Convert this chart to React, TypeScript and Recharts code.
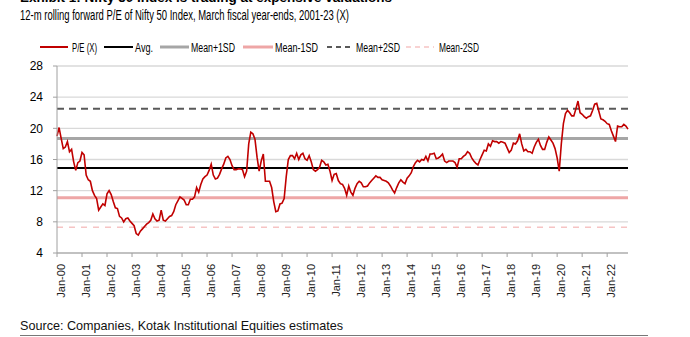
import React from 'react';
import { LineChart, Line, XAxis, YAxis, CartesianGrid, ReferenceLine } from 'recharts';

// Monthly 12-m forward P/E, Jan-2000 .. Nov-2022
const peMonthly: number[] = [
  19.0, 20.1, 18.7, 17.4, 17.6, 18.3, 17.0, 17.3, 15.7, 14.6, 15.6, 15.8, // 2000
  16.9, 16.6, 14.0, 13.4, 13.2, 12.0, 11.4, 11.0, 9.5, 9.9, 10.3, 10.1, // 2001
  11.6, 12.0, 11.5, 10.6, 9.8, 9.7, 8.7, 8.5, 8.0, 8.4, 8.5, 8.1, // 2002
  7.8, 7.5, 6.5, 6.3, 6.8, 7.1, 7.4, 7.7, 7.9, 8.2, 9.0, 8.4, // 2003
  8.1, 8.2, 9.5, 8.2, 8.1, 8.4, 8.7, 8.8, 9.3, 10.2, 10.7, 11.2, // 2004
  11.0, 10.8, 10.2, 10.2, 10.9, 10.9, 11.2, 12.4, 11.8, 12.8, 13.5, 13.8, // 2005
  14.0, 14.6, 15.4, 14.0, 13.5, 13.6, 14.1, 14.8, 15.4, 16.2, 16.4, 16.0, // 2006
  15.2, 14.7, 14.7, 14.8, 14.8, 14.7, 13.8, 14.5, 18.0, 19.5, 19.3, 18.6, // 2007
  16.3, 14.5, 15.8, 16.7, 13.2, 13.2, 13.2, 12.4, 10.6, 9.3, 9.4, 10.3, // 2008
  10.4, 11.0, 13.8, 16.0, 16.5, 16.5, 16.1, 16.8, 16.0, 16.6, 16.8, 16.1, // 2009
  15.9, 16.5, 15.7, 14.7, 14.5, 14.7, 15.0, 15.9, 15.7, 15.3, 15.4, 14.5, // 2010
  13.3, 14.1, 14.2, 13.3, 12.9, 12.8, 12.3, 11.4, 12.6, 11.8, 11.4, 12.3, // 2011
  12.9, 13.2, 13.0, 12.5, 12.5, 12.6, 13.0, 13.3, 13.6, 13.9, 13.7, 13.7, // 2012
  13.4, 13.3, 13.2, 13.0, 12.6, 12.1, 11.7, 12.4, 13.0, 13.4, 13.1, 12.9, // 2013
  13.6, 13.9, 14.3, 15.1, 15.6, 15.9, 15.7, 16.0, 15.9, 16.4, 15.8, 16.7, // 2014
  16.7, 16.8, 16.1, 16.2, 16.4, 16.7, 15.8, 15.6, 15.8, 15.8, 15.8, 15.6, // 2015
  15.0, 16.1, 16.1, 16.4, 16.6, 17.0, 16.8, 16.2, 15.8, 15.5, 15.3, 16.0, // 2016
  16.6, 17.2, 17.1, 18.0, 17.7, 18.4, 18.3, 18.3, 18.1, 18.3, 18.2, 18.1, // 2017
  17.5, 16.9, 17.2, 18.1, 18.0, 18.4, 19.3, 18.0, 17.1, 17.3, 17.0, 17.0, // 2018
  16.8, 17.6, 18.2, 18.6, 17.8, 17.3, 17.3, 18.2, 18.9, 18.5, 18.1, 17.4, // 2019
  16.2, 14.5, 18.0, 20.6, 21.9, 22.3, 22.0, 21.6, 21.6, 22.5, 23.5, 22.0, // 2020
  21.8, 21.5, 21.3, 21.5, 21.6, 22.3, 23.1, 23.2, 22.2, 21.2, 21.1, 20.9, // 2021
  20.6, 20.5, 19.7, 19.0, 18.3, 20.3, 20.2, 20.2, 20.5, 20.3, 19.9, // 2022
];

const avgPE = 14.9;
const meanPlus1SD = 18.7;
const meanMinus1SD = 11.1;
const meanPlus2SD = 22.5;
const meanMinus2SD = 7.3;

const yTicks = [4, 8, 12, 16, 20, 24, 28];
const xTickLabels = [
  'Jan-00', 'Jan-01', 'Jan-02', 'Jan-03', 'Jan-04', 'Jan-05', 'Jan-06', 'Jan-07',
  'Jan-08', 'Jan-09', 'Jan-10', 'Jan-11', 'Jan-12', 'Jan-13', 'Jan-14', 'Jan-15',
  'Jan-16', 'Jan-17', 'Jan-18', 'Jan-19', 'Jan-20', 'Jan-21', 'Jan-22',
];
const xTickMonths = xTickLabels.map((_, i) => i * 12);

const titleText = 'Exhibit 1: Nifty 50 Index is trading at expensive valuations';
const subtitleText = '12-m rolling forward P/E of Nifty 50 Index, March fiscal year-ends, 2001-23 (X)';
const sourceText = 'Source: Companies, Kotak Institutional Equities estimates';

const legendLabels = ['P/E (X)', 'Avg.', 'Mean+1SD', 'Mean-1SD', 'Mean+2SD', 'Mean-2SD'];

const data = peMonthly.map((pe, i) => ({ m: i, pe }));

const FONT = '"Liberation Sans", Arial, sans-serif';

const legendStyles = [
  { color: '#C00000', w: 2, dash: undefined as string | undefined, x1: 40, x2: 68, tx: 72, tw: 25 },
  { color: '#000000', w: 2, dash: undefined, x1: 104, x2: 133, tx: 135, tw: 18 },
  { color: '#A6A6A6', w: 3, dash: undefined, x1: 160, x2: 189, tx: 191, tw: 44 },
  { color: '#EEA6A6', w: 3, dash: undefined, x1: 243, x2: 273, tx: 275, tw: 43 },
  { color: '#595959', w: 2, dash: '5 4', x1: 327, x2: 350, tx: 356, tw: 44 },
  { color: '#F6C4C4', w: 1.5, dash: '5 4', x1: 406, x2: 434, tx: 439, tw: 40 },
];

const XTick = (props: any) => {
  const { x, y, payload } = props;
  const idx = xTickMonths.indexOf(payload.value);
  return (
    <text
      transform={`translate(${x + 4}, ${y + 3}) rotate(-90)`}
      textAnchor="end"
      dominantBaseline="central"
      fontSize={11}
      fill="#222"
      fontFamily={FONT}
    >
      {idx >= 0 ? xTickLabels[idx] : ''}
    </text>
  );
};

export default function App() {
  return (
    <div style={{ position: 'relative', width: 690, height: 337, background: '#fff', overflow: 'hidden' }}>
      <style>{`body{margin:0}`}</style>
      <svg width={690} height={337} style={{ position: 'absolute', left: 0, top: 0 }}>
        <text x={20} y={2} fontSize={13} fontWeight="bold" fontFamily={FONT} fill="#000" textLength={372} lengthAdjust="spacingAndGlyphs">
          {titleText}
        </text>
        <text x={20} y={19.5} fontSize={14} fontFamily={FONT} fill="#000" textLength={329} lengthAdjust="spacingAndGlyphs">
          {subtitleText}
        </text>
        {legendStyles.map((s, i) => (
          <g key={i}>
            <line x1={s.x1} x2={s.x2} y1={47} y2={47} stroke={s.color} strokeWidth={s.w} strokeDasharray={s.dash} />
            <text x={s.tx} y={47.5} dominantBaseline="central" fontSize={12.5} fontFamily={FONT} fill="#000" textLength={s.tw} lengthAdjust="spacingAndGlyphs">
              {legendLabels[i]}
            </text>
          </g>
        ))}
        <text x={20} y={330} fontSize={13} fontFamily={FONT} fill="#111" textLength={323} lengthAdjust="spacingAndGlyphs">
          {sourceText}
        </text>
        <line x1={20} x2={648} y1={335.5} y2={335.5} stroke="#777" strokeWidth={1} />
      </svg>
      <div style={{ position: 'absolute', left: 0, top: 0 }}>
        <LineChart width={690} height={337} data={data} margin={{ top: 66, right: 62, bottom: 34, left: 0 }}>
          <CartesianGrid vertical={false} stroke="#D9D9D9" strokeWidth={1.3} />
          <XAxis
            dataKey="m"
            type="number"
            domain={[0, peMonthly.length - 1]}
            ticks={xTickMonths}
            interval={0}
            tick={<XTick />}
            tickSize={4}
            tickMargin={4}
            height={50}
            axisLine={{ stroke: '#A0A0A0' }}
            tickLine={{ stroke: '#A0A0A0' }}
          />
          <YAxis
            type="number"
            domain={[4, 28]}
            ticks={yTicks}
            interval={0}
            width={57}
            tickSize={4}
            tickMargin={10}
            axisLine={{ stroke: '#A0A0A0' }}
            tickLine={{ stroke: '#A0A0A0' }}
            tick={{ fontSize: 12, fill: '#000', fontFamily: FONT }}
          />
          <ReferenceLine y={meanMinus2SD} stroke="#F6C4C4" strokeWidth={1.5} strokeDasharray="6 6" />
          <ReferenceLine y={meanPlus2SD} stroke="#595959" strokeWidth={2} strokeDasharray="7 5" />
          <ReferenceLine y={meanMinus1SD} stroke="#EEA6A6" strokeWidth={3} />
          <ReferenceLine y={meanPlus1SD} stroke="#A6A6A6" strokeWidth={3} />
          <ReferenceLine y={avgPE} stroke="#000000" strokeWidth={2} />
          <Line
            type="linear"
            dataKey="pe"
            stroke="#C00000"
            strokeWidth={1.6}
            dot={false}
            isAnimationActive={false}
          />
        </LineChart>
      </div>
    </div>
  );
}
